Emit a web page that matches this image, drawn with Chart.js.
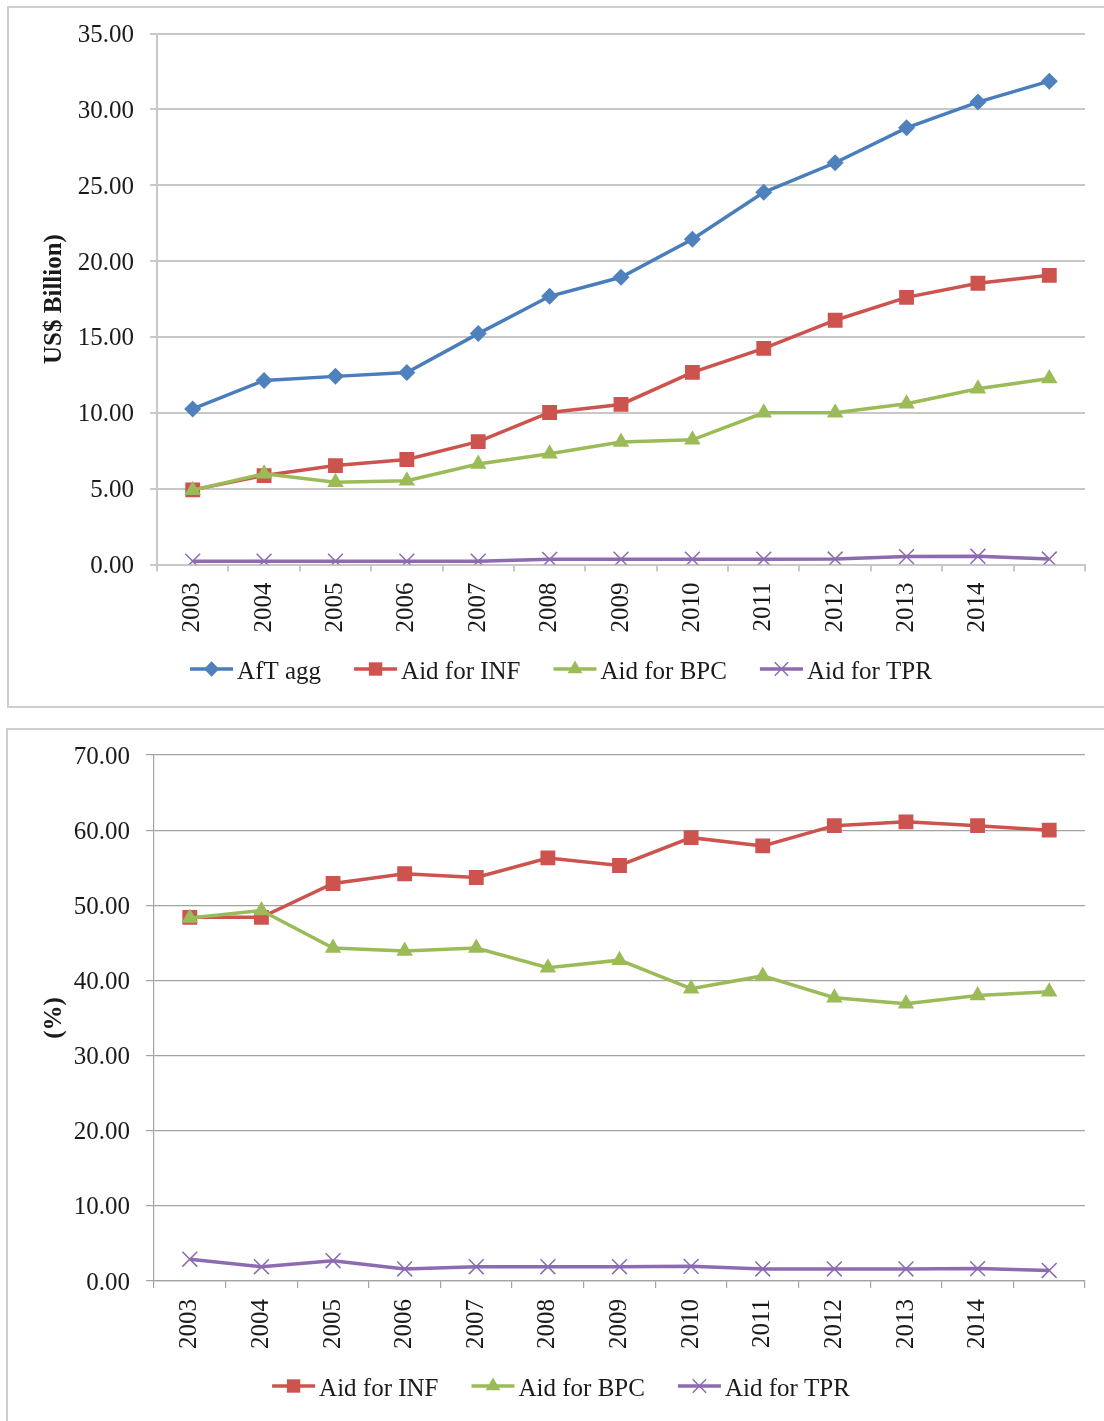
<!DOCTYPE html>
<html>
<head>
<meta charset="utf-8">
<script src="https://cdn.jsdelivr.net/npm/chart.js@4.4.1/dist/chart.umd.min.js"></script>
<style>
  html, body { margin: 0; padding: 0; background: #fff; overflow: hidden; width: 1104px; height: 1421px; }
  .panel { position: absolute; border: 2px solid #cdcdcd; box-sizing: border-box; }
  #p1 { left: 7px; top: 6px; width: 1130px; height: 702px; }
  #p2 { left: 6px; top: 728px; width: 1130px; height: 720px; }
  .wrap { position: absolute; left: 0; }
  #w1 { top: 0; }
  #w2 { top: 720px; }
</style>
</head>
<body>
<div class="panel" id="p1"></div>
<div class="panel" id="p2"></div>
<div class="wrap" id="w1"><canvas id="c1" width="1122" height="708"></canvas></div>
<div class="wrap" id="w2"><canvas id="c2" width="1122" height="701"></canvas></div>
<script>
// Categories (the last year carries no label on the axis)
const years = ['2003', '2004', '2005', '2006', '2007', '2008', '2009', '2010', '2011', '2012', '2013', '2014', ''];

// Aid for Trade, US$ billion
const aftAgg = [10.25, 12.13, 12.40, 12.65, 15.22, 17.68, 18.93, 21.44, 24.53, 26.48, 28.78, 30.48, 31.86];
const aidINF = [4.92, 5.86, 6.52, 6.92, 8.10, 10.02, 10.55, 12.66, 14.25, 16.10, 17.61, 18.54, 19.06];
const aidBPC = [4.90, 5.98, 5.42, 5.52, 6.62, 7.30, 8.08, 8.22, 10.00, 10.00, 10.60, 11.58, 12.26];
const aidTPR = [0.22, 0.22, 0.22, 0.22, 0.22, 0.34, 0.35, 0.35, 0.35, 0.36, 0.52, 0.54, 0.36];

// Shares of the aggregate, %
const shareINF = [48.4, 48.4, 52.9, 54.2, 53.7, 56.3, 55.3, 59.0, 57.9, 60.6, 61.1, 60.6, 60.0];
const shareBPC = [48.3, 49.3, 44.3, 43.9, 44.3, 41.7, 42.7, 38.9, 40.6, 37.7, 36.9, 38.0, 38.5];
const shareTPR = [2.9, 1.9, 2.7, 1.6, 1.9, 1.9, 1.9, 1.95, 1.6, 1.6, 1.6, 1.65, 1.4];

// Axis ticks
const billionTicks = { min: 0, max: 35, step: 5 };
const percentTicks = { min: 0, max: 70, step: 10 };

const FONT = "'Liberation Serif', 'Times New Roman', serif";
const TEXT = '#1a1a1a';

const styles = {
  agg: { color: '#4a7ebb', fill: '#4f81bd', pointStyle: 'rectRot', radius: 8.5, pbw: 0 },
  inf: { color: '#cd534f', fill: '#cd534f', pointStyle: 'rect', radius: 10.5, pbw: 0 },
  bpc: { color: '#9bbb59', fill: '#9bbb59', pointStyle: 'triangle', radius: 9.5, pbw: 0 },
  tpr: { color: '#8c6bb1', fill: '#8c6bb1', pointStyle: 'crossRot', radius: 10.5, pbw: 1.5 }
};

function series(label, data, s, order) {
  return {
    label, data, order,
    borderColor: s.color, backgroundColor: s.fill,
    borderWidth: 3.5, tension: 0,
    pointStyle: s.pointStyle, pointRadius: s.radius, pointHoverRadius: s.radius,
    pointBackgroundColor: s.fill, pointBorderColor: s.pbw ? s.color : s.fill,
    pointBorderWidth: s.pbw
  };
}

// Legend with a line sample and marker for each series
const lineLegend = {
  id: 'lineLegend',
  afterDraw(chart, args, opts) {
    const ctx = chart.ctx;
    ctx.save();
    ctx.font = opts.font;
    const sample = 43, gap = 4, spacing = 33;
    const items = chart.data.datasets.map(ds => ({ ds, w: ctx.measureText(ds.label).width }));
    const total = items.reduce((s, it) => s + sample + gap + it.w, 0) + spacing * (items.length - 1);
    let x = chart.width / 2 - total / 2;
    const y = opts.y;
    items.forEach(({ ds, w }) => {
      ctx.strokeStyle = ds.borderColor;
      ctx.lineWidth = ds.borderWidth;
      ctx.beginPath();
      ctx.moveTo(x, y);
      ctx.lineTo(x + sample, y);
      ctx.stroke();
      ctx.fillStyle = ds.pointBackgroundColor;
      ctx.strokeStyle = ds.pointBorderColor;
      ctx.lineWidth = ds.pointBorderWidth;
      Chart.helpers.drawPoint(ctx, {
        pointStyle: ds.pointStyle, radius: ds.pointRadius * 0.9,
        borderWidth: ds.pointBorderWidth, rotation: 0
      }, x + sample / 2, y);
      ctx.fillStyle = TEXT;
      ctx.textAlign = 'left';
      ctx.textBaseline = 'middle';
      ctx.fillText(ds.label, x + sample + gap, y + 3);
      x += sample + gap + w + spacing;
    });
    ctx.restore();
  }
};

function makeChart(id, datasets, ticks, cfg) {
  return new Chart(document.getElementById(id), {
    type: 'line',
    data: { labels: years, datasets },
    plugins: [lineLegend],
    options: {
      responsive: false,
      animation: false,
      events: [],
      layout: { padding: { top: cfg.padTop, right: 37, left: 0, bottom: 0 } },
      plugins: {
        legend: { display: false },
        tooltip: { enabled: false },
        lineLegend: { font: '25px ' + FONT, y: cfg.legendY }
      },
      scales: {
        x: {
          offset: true,
          afterFit(scale) { scale.height = cfg.xHeight; },
          grid: {
            offset: true, drawOnChartArea: false, drawTicks: true,
            tickLength: 7, color: cfg.gridColor, lineWidth: cfg.gridWidth
          },
          border: { display: true, color: cfg.gridColor, width: cfg.gridWidth },
          ticks: {
            autoSkip: false, minRotation: 90, maxRotation: 90,
            padding: cfg.xPad, color: TEXT, font: { family: FONT, size: 25 }
          }
        },
        y: {
          min: ticks.min, max: ticks.max,
          afterFit(scale) { scale.width = cfg.yWidth; },
          grid: {
            color: cfg.gridColor, lineWidth: cfg.gridWidth,
            drawTicks: true, tickLength: cfg.yTick
          },
          border: { display: true, color: cfg.gridColor, width: cfg.gridWidth },
          ticks: {
            stepSize: ticks.step, padding: 16, labelOffset: 2, color: TEXT,
            font: { family: FONT, size: 25 },
            callback: v => Number(v).toFixed(2)
          },
          title: {
            display: true, text: cfg.yTitle, color: TEXT,
            font: { family: FONT, size: 25, weight: 'bold' },
            padding: { top: 40, bottom: 0 }
          }
        }
      }
    }
  });
}

makeChart('c1', [
  series('AfT agg', aftAgg, styles.agg, 4),
  series('Aid for INF', aidINF, styles.inf, 3),
  series('Aid for BPC', aidBPC, styles.bpc, 2),
  series('Aid for TPR', aidTPR, styles.tpr, 1)
], billionTicks, {
  padTop: 33.5, xHeight: 143.5, yWidth: 157, yTick: 7, xPad: 11,
  gridColor: '#c8c8c8', gridWidth: 2, yTitle: 'US$ Billion)', legendY: 669
});

makeChart('c2', [
  series('Aid for INF', shareINF, styles.inf, 3),
  series('Aid for BPC', shareBPC, styles.bpc, 2),
  series('Aid for TPR', shareTPR, styles.tpr, 1)
], percentTicks, {
  padTop: 35, xHeight: 140, yWidth: 154, yTick: 8, xPad: 11,
  gridColor: '#a3a3a3', gridWidth: 1.2, yTitle: '(%)', legendY: 666
});
</script>
</body>
</html>
